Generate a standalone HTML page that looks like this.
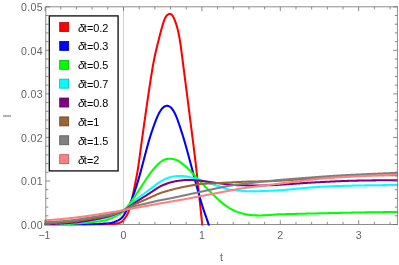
<!DOCTYPE html>
<html><head><meta charset="utf-8"><style>
html,body{margin:0;padding:0;background:#fff;}
body{width:399px;height:265px;overflow:hidden;position:relative;font-family:"Liberation Sans",sans-serif;}
svg text{font-family:"Liberation Sans",sans-serif;}
</style></head><body>
<svg width="399" height="265" viewBox="0 0 399 265" style="position:absolute;left:0;top:0;will-change:transform;opacity:0.999">
<defs><clipPath id="c"><rect x="44.199999999999996" y="6.3" width="353.7" height="219.2"/></clipPath></defs>
<path d="M45.8,6.8 H397.4 M45.8,224.5 H397.4" fill="none" stroke="#6e6e6e" stroke-width="0.8"/>
<line x1="123.5" y1="6.8" x2="123.5" y2="224.5" stroke="#c8c8c8" stroke-width="0.8"/>
<g clip-path="url(#c)" fill="none" stroke-width="2.05" stroke-linejoin="round" stroke-linecap="square">
<path d="M45.60,224.50 L46.25,224.50 L46.91,224.50 L47.56,224.50 L48.22,224.50 L48.87,224.51 L49.52,224.51 L50.18,224.51 L50.83,224.51 L51.49,224.51 L52.14,224.51 L52.79,224.51 L53.45,224.51 L54.10,224.51 L54.76,224.51 L55.41,224.51 L56.06,224.51 L56.72,224.51 L57.37,224.51 L58.03,224.51 L58.68,224.51 L59.33,224.51 L59.99,224.51 L60.64,224.51 L61.30,224.51 L61.95,224.51 L62.60,224.51 L63.26,224.51 L63.91,224.51 L64.56,224.51 L65.22,224.51 L65.87,224.51 L66.53,224.51 L67.18,224.51 L67.83,224.51 L68.49,224.51 L69.14,224.51 L69.80,224.51 L70.45,224.51 L71.10,224.51 L71.76,224.51 L72.41,224.51 L73.07,224.51 L73.72,224.51 L74.37,224.51 L75.03,224.51 L75.68,224.51 L76.34,224.51 L76.99,224.51 L77.64,224.51 L78.30,224.51 L78.95,224.51 L79.61,224.50 L80.26,224.50 L80.91,224.50 L81.57,224.50 L82.22,224.50 L82.88,224.50 L83.53,224.50 L84.18,224.50 L84.84,224.50 L85.49,224.50 L86.15,224.50 L86.80,224.50 L87.45,224.50 L88.11,224.50 L88.76,224.50 L89.42,224.50 L90.07,224.50 L90.72,224.50 L91.38,224.50 L92.03,224.50 L92.69,224.50 L93.34,224.50 L93.99,224.49 L94.65,224.49 L95.30,224.49 L95.95,224.49 L96.61,224.49 L97.26,224.48 L97.92,224.48 L98.57,224.48 L99.22,224.47 L99.88,224.47 L100.53,224.47 L101.19,224.46 L101.84,224.46 L102.49,224.46 L103.15,224.45 L103.80,224.45 L104.46,224.45 L105.11,224.43 L105.76,224.42 L106.42,224.39 L107.07,224.37 L107.73,224.34 L108.38,224.30 L109.03,224.26 L109.69,224.22 L110.34,224.18 L111.00,224.14 L111.65,224.09 L112.30,224.05 L112.96,224.00 L113.61,223.95 L114.27,223.87 L114.92,223.78 L115.57,223.67 L116.23,223.55 L116.88,223.43 L117.54,223.31 L118.19,223.18 L118.84,223.01 L119.50,222.80 L120.15,222.55 L120.81,222.25 L121.46,221.90 L122.11,221.49 L122.77,220.95 L123.42,220.23 L124.08,219.40 L124.73,218.50 L125.38,217.56 L126.04,216.54 L126.69,215.46 L127.34,214.31 L128.00,212.99 L128.65,211.35 L129.31,209.35 L129.96,207.13 L130.61,204.91 L131.27,202.48 L131.92,199.58 L132.58,196.49 L133.23,193.30 L133.88,190.08 L134.54,186.85 L135.19,183.60 L135.85,180.31 L136.50,176.96 L137.15,173.39 L137.81,169.50 L138.46,165.26 L139.12,160.66 L139.77,155.84 L140.42,150.93 L141.08,146.06 L141.73,141.34 L142.39,136.67 L143.04,132.00 L143.69,127.34 L144.35,122.68 L145.00,118.05 L145.66,113.44 L146.31,108.86 L146.96,104.32 L147.62,99.82 L148.27,95.37 L148.93,90.98 L149.58,86.64 L150.23,82.37 L150.89,78.18 L151.54,74.06 L152.20,70.03 L152.85,66.18 L153.50,62.58 L154.16,59.21 L154.81,56.05 L155.47,53.05 L156.12,50.20 L156.77,47.46 L157.43,44.81 L158.08,42.22 L158.73,39.66 L159.39,37.11 L160.04,34.53 L160.70,31.98 L161.35,29.51 L162.00,27.16 L162.66,24.93 L163.31,22.84 L163.97,20.91 L164.62,19.18 L165.27,17.76 L165.93,16.63 L166.58,15.75 L167.24,15.10 L167.89,14.63 L168.54,14.31 L169.20,14.10 L169.85,13.98 L170.51,14.04 L171.16,14.33 L171.81,14.86 L172.47,15.61 L173.12,16.61 L173.78,17.85 L174.43,19.32 L175.08,21.01 L175.74,22.84 L176.39,24.83 L177.05,27.04 L177.70,29.51 L178.35,32.29 L179.01,35.43 L179.66,38.99 L180.32,43.00 L180.97,47.51 L181.62,52.51 L182.28,57.59 L182.93,62.69 L183.59,67.79 L184.24,72.90 L184.89,78.01 L185.55,83.12 L186.20,88.23 L186.86,93.34 L187.51,98.45 L188.16,103.56 L188.82,108.67 L189.47,113.79 L190.12,118.91 L190.78,124.03 L191.43,129.15 L192.09,134.28 L192.74,139.41 L193.39,144.56 L194.05,149.82 L194.70,155.24 L195.36,160.79 L196.01,166.47 L196.66,172.26 L197.32,178.16 L197.97,184.15 L198.63,190.22 L199.28,196.37 L199.93,202.57 L200.59,208.82 L201.24,215.11 L201.90,221.43 L202.55,227.78 L203.20,234.29 L203.86,240.97 L204.51,247.82 L205.17,254.83 L205.82,262.00" stroke="#ff0000"/>
<path d="M45.60,224.50 L46.25,224.50 L46.91,224.50 L47.56,224.50 L48.22,224.50 L48.87,224.50 L49.52,224.50 L50.18,224.50 L50.83,224.50 L51.49,224.50 L52.14,224.50 L52.79,224.50 L53.45,224.50 L54.10,224.49 L54.75,224.49 L55.41,224.49 L56.06,224.49 L56.72,224.49 L57.37,224.49 L58.02,224.48 L58.68,224.48 L59.33,224.48 L59.99,224.48 L60.64,224.48 L61.29,224.47 L61.95,224.47 L62.60,224.47 L63.26,224.47 L63.91,224.47 L64.56,224.46 L65.22,224.46 L65.87,224.46 L66.53,224.46 L67.18,224.45 L67.83,224.45 L68.49,224.45 L69.14,224.45 L69.79,224.44 L70.45,224.44 L71.10,224.44 L71.76,224.43 L72.41,224.43 L73.06,224.43 L73.72,224.43 L74.37,224.42 L75.03,224.42 L75.68,224.42 L76.33,224.42 L76.99,224.41 L77.64,224.41 L78.30,224.41 L78.95,224.40 L79.60,224.40 L80.26,224.40 L80.91,224.40 L81.56,224.39 L82.22,224.39 L82.87,224.39 L83.53,224.38 L84.18,224.38 L84.83,224.37 L85.49,224.37 L86.14,224.36 L86.80,224.35 L87.45,224.35 L88.10,224.34 L88.76,224.32 L89.41,224.31 L90.07,224.30 L90.72,224.28 L91.37,224.26 L92.03,224.24 L92.68,224.22 L93.34,224.19 L93.99,224.16 L94.64,224.13 L95.30,224.10 L95.95,224.06 L96.60,224.03 L97.26,223.99 L97.91,223.95 L98.57,223.92 L99.22,223.88 L99.87,223.84 L100.53,223.80 L101.18,223.76 L101.84,223.72 L102.49,223.68 L103.14,223.65 L103.80,223.61 L104.45,223.58 L105.11,223.54 L105.76,223.50 L106.41,223.45 L107.07,223.41 L107.72,223.36 L108.38,223.31 L109.03,223.25 L109.68,223.16 L110.34,223.04 L110.99,222.90 L111.64,222.75 L112.30,222.58 L112.95,222.41 L113.61,222.23 L114.26,222.01 L114.91,221.76 L115.57,221.50 L116.22,221.21 L116.88,220.92 L117.53,220.63 L118.18,220.33 L118.84,219.99 L119.49,219.60 L120.15,219.17 L120.80,218.67 L121.45,218.12 L122.11,217.49 L122.76,216.74 L123.41,215.84 L124.07,214.83 L124.72,213.73 L125.38,212.58 L126.03,211.41 L126.68,210.21 L127.34,208.99 L127.99,207.73 L128.65,206.43 L129.30,205.08 L129.95,203.67 L130.61,202.21 L131.26,200.68 L131.92,199.08 L132.57,197.40 L133.22,195.66 L133.88,193.85 L134.53,191.98 L135.19,190.04 L135.84,188.05 L136.49,186.00 L137.15,183.89 L137.80,181.73 L138.45,179.53 L139.11,177.28 L139.76,174.97 L140.42,172.61 L141.07,170.20 L141.72,167.76 L142.38,165.29 L143.03,162.80 L143.69,160.30 L144.34,157.79 L144.99,155.29 L145.65,152.80 L146.30,150.33 L146.96,147.89 L147.61,145.49 L148.26,143.13 L148.92,140.84 L149.57,138.63 L150.22,136.49 L150.88,134.43 L151.53,132.43 L152.19,130.48 L152.84,128.59 L153.49,126.75 L154.15,124.94 L154.80,123.17 L155.46,121.43 L156.11,119.71 L156.76,118.07 L157.42,116.54 L158.07,115.11 L158.73,113.78 L159.38,112.56 L160.03,111.44 L160.69,110.43 L161.34,109.51 L162.00,108.70 L162.65,107.99 L163.30,107.38 L163.96,106.87 L164.61,106.46 L165.26,106.15 L165.92,105.94 L166.57,105.82 L167.23,105.81 L167.88,105.89 L168.53,106.07 L169.19,106.35 L169.84,106.74 L170.50,107.24 L171.15,107.84 L171.80,108.56 L172.46,109.38 L173.11,110.32 L173.77,111.38 L174.42,112.55 L175.07,113.85 L175.73,115.26 L176.38,116.80 L177.04,118.46 L177.69,120.25 L178.34,122.10 L179.00,123.98 L179.65,125.89 L180.30,127.84 L180.96,129.82 L181.61,131.83 L182.27,133.89 L182.92,135.99 L183.57,138.14 L184.23,140.34 L184.88,142.59 L185.54,144.88 L186.19,147.21 L186.84,149.56 L187.50,151.94 L188.15,154.34 L188.81,156.75 L189.46,159.18 L190.11,161.63 L190.77,164.08 L191.42,166.54 L192.07,169.01 L192.73,171.47 L193.38,173.94 L194.04,176.40 L194.69,178.85 L195.34,181.29 L196.00,183.72 L196.65,186.14 L197.31,188.53 L197.96,190.91 L198.61,193.26 L199.27,195.58 L199.92,197.87 L200.58,200.13 L201.23,202.36 L201.88,204.55 L202.54,206.66 L203.19,208.66 L203.85,210.59 L204.50,212.47 L205.15,214.31 L205.81,216.15 L206.46,218.00 L207.11,219.90 L207.77,221.87 L208.42,223.92 L209.08,226.07 L209.73,228.27 L210.38,230.51 L211.04,232.80 L211.69,235.15 L212.35,237.54 L213.00,240.00" stroke="#0000ff"/>
<path d="M45.60,224.40 L46.25,224.40 L46.91,224.40 L47.56,224.40 L48.21,224.40 L48.87,224.39 L49.52,224.39 L50.18,224.38 L50.83,224.38 L51.48,224.37 L52.14,224.36 L52.79,224.35 L53.44,224.34 L54.10,224.33 L54.75,224.32 L55.40,224.31 L56.06,224.29 L56.71,224.28 L57.37,224.27 L58.02,224.25 L58.67,224.23 L59.33,224.22 L59.98,224.20 L60.63,224.18 L61.29,224.16 L61.94,224.15 L62.59,224.13 L63.25,224.10 L63.90,224.08 L64.55,224.06 L65.21,224.04 L65.86,224.01 L66.52,223.99 L67.17,223.96 L67.82,223.94 L68.48,223.91 L69.13,223.88 L69.78,223.86 L70.44,223.83 L71.09,223.80 L71.74,223.77 L72.40,223.73 L73.05,223.70 L73.71,223.67 L74.36,223.63 L75.01,223.60 L75.67,223.56 L76.32,223.52 L76.97,223.49 L77.63,223.45 L78.28,223.41 L78.93,223.37 L79.59,223.33 L80.24,223.28 L80.90,223.24 L81.55,223.19 L82.20,223.14 L82.86,223.08 L83.51,223.03 L84.16,222.97 L84.82,222.91 L85.47,222.85 L86.12,222.78 L86.78,222.72 L87.43,222.66 L88.09,222.59 L88.74,222.53 L89.39,222.46 L90.05,222.40 L90.70,222.33 L91.35,222.26 L92.01,222.20 L92.66,222.13 L93.31,222.06 L93.97,221.98 L94.62,221.91 L95.27,221.83 L95.93,221.76 L96.58,221.68 L97.24,221.60 L97.89,221.51 L98.54,221.42 L99.20,221.34 L99.85,221.24 L100.50,221.15 L101.16,221.05 L101.81,220.95 L102.46,220.85 L103.12,220.75 L103.77,220.64 L104.43,220.52 L105.08,220.38 L105.73,220.21 L106.39,220.01 L107.04,219.81 L107.69,219.58 L108.35,219.35 L109.00,219.12 L109.65,218.88 L110.31,218.63 L110.96,218.37 L111.62,218.10 L112.27,217.82 L112.92,217.53 L113.58,217.23 L114.23,216.92 L114.88,216.60 L115.54,216.27 L116.19,215.93 L116.84,215.59 L117.50,215.25 L118.15,214.91 L118.81,214.56 L119.46,214.19 L120.11,213.81 L120.77,213.40 L121.42,212.97 L122.07,212.52 L122.73,212.00 L123.38,211.39 L124.03,210.71 L124.69,209.97 L125.34,209.19 L125.99,208.40 L126.65,207.60 L127.30,206.79 L127.96,205.96 L128.61,205.13 L129.26,204.27 L129.92,203.39 L130.57,202.48 L131.22,201.56 L131.88,200.63 L132.53,199.69 L133.18,198.75 L133.84,197.81 L134.49,196.86 L135.15,195.91 L135.80,194.96 L136.45,194.00 L137.11,193.03 L137.76,192.06 L138.41,191.08 L139.07,190.10 L139.72,189.11 L140.37,188.11 L141.03,187.10 L141.68,186.09 L142.34,185.07 L142.99,184.05 L143.64,183.03 L144.30,182.01 L144.95,181.00 L145.60,179.99 L146.26,178.98 L146.91,177.98 L147.56,177.01 L148.22,176.07 L148.87,175.16 L149.53,174.25 L150.18,173.36 L150.83,172.48 L151.49,171.62 L152.14,170.79 L152.79,169.99 L153.45,169.20 L154.10,168.44 L154.75,167.70 L155.41,166.99 L156.06,166.29 L156.72,165.61 L157.37,164.96 L158.02,164.32 L158.68,163.70 L159.33,163.10 L159.98,162.51 L160.64,161.96 L161.29,161.47 L161.94,161.02 L162.60,160.61 L163.25,160.26 L163.90,159.94 L164.56,159.67 L165.21,159.44 L165.87,159.25 L166.52,159.09 L167.17,158.97 L167.83,158.88 L168.48,158.83 L169.13,158.80 L169.79,158.79 L170.44,158.81 L171.09,158.85 L171.75,158.91 L172.40,158.98 L173.06,159.08 L173.71,159.20 L174.36,159.35 L175.02,159.52 L175.67,159.73 L176.32,159.96 L176.98,160.24 L177.63,160.54 L178.28,160.89 L178.94,161.28 L179.59,161.71 L180.25,162.18 L180.90,162.67 L181.55,163.16 L182.21,163.66 L182.86,164.17 L183.51,164.69 L184.17,165.22 L184.82,165.76 L185.47,166.32 L186.13,166.89 L186.78,167.47 L187.44,168.07 L188.09,168.69 L188.74,169.33 L189.40,169.98 L190.05,170.65 L190.70,171.34 L191.36,172.03 L192.01,172.72 L192.66,173.42 L193.32,174.12 L193.97,174.82 L194.62,175.53 L195.28,176.23 L195.93,176.94 L196.59,177.65 L197.24,178.35 L197.89,179.06 L198.55,179.76 L199.20,180.46 L199.85,181.15 L200.51,181.84 L201.16,182.53 L201.81,183.21 L202.47,183.89 L203.12,184.56 L203.78,185.23 L204.43,185.90 L205.08,186.57 L205.74,187.24 L206.39,187.90 L207.04,188.56 L207.70,189.22 L208.35,189.88 L209.00,190.54 L209.66,191.19 L210.31,191.84 L210.97,192.49 L211.62,193.13 L212.27,193.77 L212.93,194.41 L213.58,195.05 L214.23,195.69 L214.89,196.32 L215.54,196.95 L216.19,197.58 L216.85,198.20 L217.50,198.83 L218.16,199.44 L218.81,200.04 L219.46,200.64 L220.12,201.21 L220.77,201.78 L221.42,202.33 L222.08,202.87 L222.73,203.40 L223.38,203.92 L224.04,204.42 L224.69,204.91 L225.34,205.39 L226.00,205.85 L226.65,206.31 L227.31,206.75 L227.96,207.18 L228.61,207.59 L229.27,208.00 L229.92,208.39 L230.57,208.77 L231.23,209.14 L231.88,209.49 L232.53,209.83 L233.19,210.16 L233.84,210.48 L234.50,210.79 L235.15,211.08 L235.80,211.36 L236.46,211.63 L237.11,211.89 L237.76,212.13 L238.42,212.37 L239.07,212.59 L239.72,212.80 L240.38,213.00 L241.03,213.19 L241.69,213.37 L242.34,213.54 L242.99,213.70 L243.65,213.84 L244.30,213.99 L244.95,214.13 L245.61,214.26 L246.26,214.39 L246.91,214.51 L247.57,214.62 L248.22,214.71 L248.88,214.79 L249.53,214.86 L250.18,214.93 L250.84,214.99 L251.49,215.06 L252.14,215.11 L252.80,215.17 L253.45,215.22 L254.10,215.26 L254.76,215.30 L255.41,215.34 L256.06,215.36 L256.72,215.38 L257.37,215.40 L258.03,215.40 L258.68,215.41 L259.33,215.41 L259.99,215.41 L260.64,215.41 L261.29,215.40 L261.95,215.39 L262.60,215.37 L263.25,215.36 L263.91,215.33 L264.56,215.30 L265.22,215.27 L265.87,215.23 L266.52,215.19 L267.18,215.15 L267.83,215.11 L268.48,215.06 L269.14,215.01 L269.79,214.97 L270.44,214.92 L271.10,214.87 L271.75,214.82 L272.41,214.77 L273.06,214.72 L273.71,214.67 L274.37,214.62 L275.02,214.57 L275.67,214.53 L276.33,214.49 L276.98,214.45 L277.63,214.41 L278.29,214.38 L278.94,214.35 L279.60,214.32 L280.25,214.30 L280.90,214.28 L281.56,214.26 L282.21,214.25 L282.86,214.23 L283.52,214.21 L284.17,214.19 L284.82,214.17 L285.48,214.15 L286.13,214.14 L286.78,214.12 L287.44,214.10 L288.09,214.08 L288.75,214.07 L289.40,214.05 L290.05,214.03 L290.71,214.01 L291.36,214.00 L292.01,213.98 L292.67,213.96 L293.32,213.94 L293.97,213.93 L294.63,213.91 L295.28,213.89 L295.94,213.88 L296.59,213.86 L297.24,213.84 L297.90,213.83 L298.55,213.81 L299.20,213.79 L299.86,213.78 L300.51,213.76 L301.16,213.74 L301.82,213.73 L302.47,213.71 L303.13,213.70 L303.78,213.68 L304.43,213.67 L305.09,213.65 L305.74,213.63 L306.39,213.62 L307.05,213.60 L307.70,213.59 L308.35,213.57 L309.01,213.56 L309.66,213.54 L310.32,213.53 L310.97,213.52 L311.62,213.50 L312.28,213.49 L312.93,213.47 L313.58,213.46 L314.24,213.44 L314.89,213.43 L315.54,213.41 L316.20,213.40 L316.85,213.39 L317.51,213.37 L318.16,213.36 L318.81,213.34 L319.47,213.33 L320.12,213.31 L320.77,213.30 L321.43,213.28 L322.08,213.27 L322.73,213.25 L323.39,213.24 L324.04,213.22 L324.69,213.21 L325.35,213.20 L326.00,213.18 L326.66,213.17 L327.31,213.15 L327.96,213.14 L328.62,213.12 L329.27,213.11 L329.92,213.09 L330.58,213.08 L331.23,213.07 L331.88,213.05 L332.54,213.04 L333.19,213.02 L333.85,213.01 L334.50,212.99 L335.15,212.98 L335.81,212.97 L336.46,212.95 L337.11,212.94 L337.77,212.92 L338.42,212.91 L339.07,212.89 L339.73,212.88 L340.38,212.87 L341.04,212.85 L341.69,212.84 L342.34,212.83 L343.00,212.81 L343.65,212.80 L344.30,212.78 L344.96,212.77 L345.61,212.76 L346.26,212.74 L346.92,212.73 L347.57,212.72 L348.23,212.70 L348.88,212.69 L349.53,212.68 L350.19,212.66 L350.84,212.65 L351.49,212.64 L352.15,212.62 L352.80,212.61 L353.45,212.60 L354.11,212.59 L354.76,212.57 L355.41,212.56 L356.07,212.55 L356.72,212.54 L357.38,212.52 L358.03,212.51 L358.68,212.50 L359.34,212.49 L359.99,212.48 L360.64,212.46 L361.30,212.45 L361.95,212.44 L362.60,212.43 L363.26,212.42 L363.91,212.41 L364.57,212.40 L365.22,212.39 L365.87,212.38 L366.53,212.37 L367.18,212.36 L367.83,212.35 L368.49,212.34 L369.14,212.33 L369.79,212.32 L370.45,212.31 L371.10,212.30 L371.76,212.29 L372.41,212.28 L373.06,212.27 L373.72,212.26 L374.37,212.25 L375.02,212.24 L375.68,212.23 L376.33,212.23 L376.98,212.22 L377.64,212.21 L378.29,212.20 L378.95,212.19 L379.60,212.19 L380.25,212.18 L380.91,212.17 L381.56,212.16 L382.21,212.15 L382.87,212.15 L383.52,212.14 L384.17,212.13 L384.83,212.13 L385.48,212.12 L386.13,212.11 L386.79,212.10 L387.44,212.10 L388.10,212.09 L388.75,212.08 L389.40,212.08 L390.06,212.07 L390.71,212.07 L391.36,212.06 L392.02,212.05 L392.67,212.05 L393.32,212.04 L393.98,212.03 L394.63,212.03 L395.29,212.02 L395.94,212.02 L396.59,212.01 L397.25,212.01 L397.90,212.00" stroke="#00ff00"/>
<path d="M45.60,224.30 L46.25,224.29 L46.91,224.27 L47.56,224.26 L48.21,224.24 L48.87,224.23 L49.52,224.21 L50.18,224.19 L50.83,224.17 L51.48,224.15 L52.14,224.12 L52.79,224.10 L53.44,224.08 L54.10,224.05 L54.75,224.03 L55.40,224.00 L56.06,223.97 L56.71,223.95 L57.37,223.92 L58.02,223.89 L58.67,223.86 L59.33,223.83 L59.98,223.80 L60.63,223.77 L61.29,223.74 L61.94,223.71 L62.59,223.68 L63.25,223.65 L63.90,223.62 L64.55,223.58 L65.21,223.55 L65.86,223.52 L66.52,223.48 L67.17,223.44 L67.82,223.41 L68.48,223.37 L69.13,223.33 L69.78,223.29 L70.44,223.24 L71.09,223.20 L71.74,223.15 L72.40,223.11 L73.05,223.06 L73.71,223.00 L74.36,222.95 L75.01,222.90 L75.67,222.84 L76.32,222.78 L76.97,222.72 L77.63,222.65 L78.28,222.59 L78.93,222.52 L79.59,222.45 L80.24,222.37 L80.90,222.29 L81.55,222.21 L82.20,222.12 L82.86,222.03 L83.51,221.94 L84.16,221.84 L84.82,221.74 L85.47,221.63 L86.12,221.53 L86.78,221.43 L87.43,221.32 L88.09,221.21 L88.74,221.11 L89.39,221.00 L90.05,220.89 L90.70,220.79 L91.35,220.68 L92.01,220.57 L92.66,220.46 L93.31,220.35 L93.97,220.24 L94.62,220.13 L95.27,220.02 L95.93,219.91 L96.58,219.79 L97.24,219.67 L97.89,219.56 L98.54,219.44 L99.20,219.32 L99.85,219.20 L100.50,219.08 L101.16,218.95 L101.81,218.83 L102.46,218.70 L103.12,218.57 L103.77,218.45 L104.43,218.31 L105.08,218.17 L105.73,218.01 L106.39,217.84 L107.04,217.66 L107.69,217.47 L108.35,217.28 L109.00,217.07 L109.65,216.86 L110.31,216.64 L110.96,216.42 L111.62,216.19 L112.27,215.96 L112.92,215.73 L113.58,215.49 L114.23,215.24 L114.88,214.97 L115.54,214.69 L116.19,214.41 L116.84,214.11 L117.50,213.81 L118.15,213.50 L118.81,213.19 L119.46,212.87 L120.11,212.54 L120.77,212.21 L121.42,211.85 L122.07,211.48 L122.73,211.09 L123.38,210.68 L124.03,210.25 L124.69,209.80 L125.34,209.32 L125.99,208.81 L126.65,208.26 L127.30,207.68 L127.96,207.07 L128.61,206.43 L129.26,205.78 L129.92,205.12 L130.57,204.46 L131.22,203.80 L131.88,203.16 L132.53,202.53 L133.18,201.92 L133.84,201.34 L134.49,200.79 L135.15,200.29 L135.80,199.80 L136.45,199.32 L137.11,198.83 L137.76,198.34 L138.41,197.86 L139.07,197.37 L139.72,196.89 L140.37,196.40 L141.03,195.92 L141.68,195.43 L142.34,194.95 L142.99,194.47 L143.64,193.98 L144.30,193.49 L144.95,193.01 L145.60,192.52 L146.26,192.03 L146.91,191.54 L147.56,191.05 L148.22,190.56 L148.87,190.07 L149.53,189.58 L150.18,189.08 L150.83,188.59 L151.49,188.10 L152.14,187.60 L152.79,187.11 L153.45,186.62 L154.10,186.13 L154.75,185.63 L155.41,185.14 L156.06,184.65 L156.72,184.16 L157.37,183.67 L158.02,183.19 L158.68,182.73 L159.33,182.28 L159.98,181.86 L160.64,181.46 L161.29,181.07 L161.94,180.70 L162.60,180.34 L163.25,180.00 L163.90,179.68 L164.56,179.36 L165.21,179.06 L165.87,178.76 L166.52,178.48 L167.17,178.20 L167.83,177.95 L168.48,177.72 L169.13,177.50 L169.79,177.31 L170.44,177.13 L171.09,176.97 L171.75,176.83 L172.40,176.70 L173.06,176.59 L173.71,176.49 L174.36,176.40 L175.02,176.31 L175.67,176.24 L176.32,176.17 L176.98,176.11 L177.63,176.07 L178.28,176.03 L178.94,176.01 L179.59,176.00 L180.25,176.00 L180.90,176.01 L181.55,176.03 L182.21,176.06 L182.86,176.09 L183.51,176.14 L184.17,176.21 L184.82,176.28 L185.47,176.38 L186.13,176.49 L186.78,176.61 L187.44,176.73 L188.09,176.86 L188.74,176.99 L189.40,177.12 L190.05,177.25 L190.70,177.39 L191.36,177.52 L192.01,177.67 L192.66,177.81 L193.32,177.96 L193.97,178.12 L194.62,178.28 L195.28,178.44 L195.93,178.61 L196.59,178.78 L197.24,178.96 L197.89,179.14 L198.55,179.33 L199.20,179.52 L199.85,179.73 L200.51,179.93 L201.16,180.15 L201.81,180.37 L202.47,180.60 L203.12,180.82 L203.78,181.05 L204.43,181.28 L205.08,181.50 L205.74,181.73 L206.39,181.96 L207.04,182.18 L207.70,182.41 L208.35,182.64 L209.00,182.87 L209.66,183.09 L210.31,183.32 L210.97,183.55 L211.62,183.77 L212.27,184.00 L212.93,184.23 L213.58,184.45 L214.23,184.68 L214.89,184.91 L215.54,185.13 L216.19,185.36 L216.85,185.59 L217.50,185.81 L218.16,186.04 L218.81,186.27 L219.46,186.49 L220.12,186.72 L220.77,186.94 L221.42,187.17 L222.08,187.39 L222.73,187.62 L223.38,187.84 L224.04,188.07 L224.69,188.29 L225.34,188.52 L226.00,188.72 L226.65,188.91 L227.31,189.08 L227.96,189.24 L228.61,189.39 L229.27,189.52 L229.92,189.64 L230.57,189.75 L231.23,189.85 L231.88,189.94 L232.53,190.02 L233.19,190.10 L233.84,190.18 L234.50,190.25 L235.15,190.31 L235.80,190.38 L236.46,190.45 L237.11,190.51 L237.76,190.57 L238.42,190.63 L239.07,190.69 L239.72,190.74 L240.38,190.80 L241.03,190.85 L241.69,190.90 L242.34,190.94 L242.99,190.99 L243.65,191.03 L244.30,191.06 L244.95,191.09 L245.61,191.12 L246.26,191.15 L246.91,191.17 L247.57,191.18 L248.22,191.19 L248.88,191.20 L249.53,191.20 L250.18,191.21 L250.84,191.21 L251.49,191.21 L252.14,191.21 L252.80,191.21 L253.45,191.21 L254.10,191.20 L254.76,191.20 L255.41,191.20 L256.06,191.19 L256.72,191.19 L257.37,191.18 L258.03,191.17 L258.68,191.16 L259.33,191.15 L259.99,191.13 L260.64,191.12 L261.29,191.10 L261.95,191.09 L262.60,191.07 L263.25,191.05 L263.91,191.03 L264.56,191.00 L265.22,190.98 L265.87,190.95 L266.52,190.93 L267.18,190.90 L267.83,190.87 L268.48,190.85 L269.14,190.82 L269.79,190.79 L270.44,190.76 L271.10,190.73 L271.75,190.70 L272.41,190.67 L273.06,190.63 L273.71,190.60 L274.37,190.56 L275.02,190.53 L275.67,190.49 L276.33,190.45 L276.98,190.42 L277.63,190.38 L278.29,190.33 L278.94,190.29 L279.60,190.25 L280.25,190.20 L280.90,190.16 L281.56,190.11 L282.21,190.06 L282.86,190.01 L283.52,189.96 L284.17,189.90 L284.82,189.85 L285.48,189.79 L286.13,189.73 L286.78,189.67 L287.44,189.62 L288.09,189.56 L288.75,189.49 L289.40,189.43 L290.05,189.37 L290.71,189.31 L291.36,189.24 L292.01,189.18 L292.67,189.11 L293.32,189.05 L293.97,188.99 L294.63,188.92 L295.28,188.85 L295.94,188.79 L296.59,188.72 L297.24,188.66 L297.90,188.59 L298.55,188.53 L299.20,188.47 L299.86,188.40 L300.51,188.34 L301.16,188.28 L301.82,188.21 L302.47,188.15 L303.13,188.09 L303.78,188.03 L304.43,187.97 L305.09,187.91 L305.74,187.86 L306.39,187.80 L307.05,187.75 L307.70,187.69 L308.35,187.64 L309.01,187.59 L309.66,187.54 L310.32,187.49 L310.97,187.45 L311.62,187.40 L312.28,187.36 L312.93,187.32 L313.58,187.27 L314.24,187.23 L314.89,187.19 L315.54,187.15 L316.20,187.11 L316.85,187.07 L317.51,187.03 L318.16,186.99 L318.81,186.95 L319.47,186.91 L320.12,186.87 L320.77,186.83 L321.43,186.80 L322.08,186.76 L322.73,186.72 L323.39,186.69 L324.04,186.65 L324.69,186.62 L325.35,186.58 L326.00,186.55 L326.66,186.52 L327.31,186.48 L327.96,186.45 L328.62,186.42 L329.27,186.39 L329.92,186.36 L330.58,186.33 L331.23,186.30 L331.88,186.27 L332.54,186.24 L333.19,186.22 L333.85,186.19 L334.50,186.16 L335.15,186.14 L335.81,186.11 L336.46,186.09 L337.11,186.07 L337.77,186.04 L338.42,186.02 L339.07,186.00 L339.73,185.98 L340.38,185.96 L341.04,185.94 L341.69,185.92 L342.34,185.90 L343.00,185.88 L343.65,185.86 L344.30,185.84 L344.96,185.82 L345.61,185.80 L346.26,185.78 L346.92,185.77 L347.57,185.75 L348.23,185.73 L348.88,185.71 L349.53,185.70 L350.19,185.68 L350.84,185.66 L351.49,185.65 L352.15,185.63 L352.80,185.62 L353.45,185.60 L354.11,185.59 L354.76,185.58 L355.41,185.56 L356.07,185.55 L356.72,185.54 L357.38,185.52 L358.03,185.51 L358.68,185.50 L359.34,185.49 L359.99,185.48 L360.64,185.47 L361.30,185.46 L361.95,185.45 L362.60,185.43 L363.26,185.42 L363.91,185.41 L364.57,185.40 L365.22,185.39 L365.87,185.38 L366.53,185.37 L367.18,185.36 L367.83,185.35 L368.49,185.34 L369.14,185.33 L369.79,185.32 L370.45,185.31 L371.10,185.30 L371.76,185.29 L372.41,185.28 L373.06,185.27 L373.72,185.26 L374.37,185.25 L375.02,185.24 L375.68,185.23 L376.33,185.22 L376.98,185.22 L377.64,185.21 L378.29,185.20 L378.95,185.19 L379.60,185.18 L380.25,185.17 L380.91,185.16 L381.56,185.16 L382.21,185.15 L382.87,185.14 L383.52,185.13 L384.17,185.12 L384.83,185.12 L385.48,185.11 L386.13,185.10 L386.79,185.10 L387.44,185.09 L388.10,185.08 L388.75,185.08 L389.40,185.07 L390.06,185.06 L390.71,185.06 L391.36,185.05 L392.02,185.04 L392.67,185.04 L393.32,185.03 L393.98,185.03 L394.63,185.02 L395.29,185.02 L395.94,185.01 L396.59,185.01 L397.25,185.00 L397.90,185.00" stroke="#00ffff"/>
<path d="M45.60,224.10 L46.25,224.09 L46.91,224.08 L47.56,224.07 L48.21,224.06 L48.87,224.05 L49.52,224.03 L50.18,224.01 L50.83,224.00 L51.48,223.98 L52.14,223.95 L52.79,223.93 L53.44,223.91 L54.10,223.88 L54.75,223.86 L55.40,223.83 L56.06,223.80 L56.71,223.77 L57.37,223.74 L58.02,223.70 L58.67,223.67 L59.33,223.64 L59.98,223.60 L60.63,223.56 L61.29,223.53 L61.94,223.49 L62.59,223.45 L63.25,223.41 L63.90,223.37 L64.55,223.33 L65.21,223.28 L65.86,223.24 L66.52,223.20 L67.17,223.15 L67.82,223.10 L68.48,223.05 L69.13,223.00 L69.78,222.95 L70.44,222.89 L71.09,222.84 L71.74,222.78 L72.40,222.72 L73.05,222.66 L73.71,222.60 L74.36,222.54 L75.01,222.47 L75.67,222.40 L76.32,222.33 L76.97,222.26 L77.63,222.19 L78.28,222.11 L78.93,222.03 L79.59,221.95 L80.24,221.87 L80.90,221.78 L81.55,221.69 L82.20,221.60 L82.86,221.50 L83.51,221.40 L84.16,221.30 L84.82,221.20 L85.47,221.09 L86.12,220.98 L86.78,220.87 L87.43,220.76 L88.09,220.64 L88.74,220.53 L89.39,220.41 L90.05,220.29 L90.70,220.17 L91.35,220.05 L92.01,219.93 L92.66,219.81 L93.31,219.69 L93.97,219.57 L94.62,219.44 L95.27,219.31 L95.93,219.19 L96.58,219.06 L97.24,218.93 L97.89,218.80 L98.54,218.66 L99.20,218.53 L99.85,218.39 L100.50,218.26 L101.16,218.12 L101.81,217.98 L102.46,217.84 L103.12,217.69 L103.77,217.55 L104.43,217.40 L105.08,217.25 L105.73,217.09 L106.39,216.92 L107.04,216.75 L107.69,216.57 L108.35,216.39 L109.00,216.20 L109.65,216.01 L110.31,215.82 L110.96,215.62 L111.62,215.43 L112.27,215.23 L112.92,215.02 L113.58,214.82 L114.23,214.60 L114.88,214.38 L115.54,214.15 L116.19,213.91 L116.84,213.66 L117.50,213.40 L118.15,213.13 L118.81,212.86 L119.46,212.57 L120.11,212.28 L120.77,211.97 L121.42,211.65 L122.07,211.32 L122.73,210.97 L123.38,210.60 L124.03,210.22 L124.69,209.82 L125.34,209.40 L125.99,208.97 L126.65,208.52 L127.30,208.07 L127.96,207.60 L128.61,207.13 L129.26,206.66 L129.92,206.18 L130.57,205.70 L131.22,205.22 L131.88,204.75 L132.53,204.28 L133.18,203.82 L133.84,203.37 L134.49,202.93 L135.15,202.51 L135.80,202.09 L136.45,201.67 L137.11,201.25 L137.76,200.83 L138.41,200.42 L139.07,200.00 L139.72,199.59 L140.37,199.17 L141.03,198.76 L141.68,198.34 L142.34,197.93 L142.99,197.51 L143.64,197.10 L144.30,196.68 L144.95,196.26 L145.60,195.85 L146.26,195.43 L146.91,195.01 L147.56,194.58 L148.22,194.16 L148.87,193.73 L149.53,193.30 L150.18,192.87 L150.83,192.44 L151.49,192.01 L152.14,191.57 L152.79,191.14 L153.45,190.71 L154.10,190.28 L154.75,189.85 L155.41,189.42 L156.06,188.99 L156.72,188.57 L157.37,188.15 L158.02,187.73 L158.68,187.33 L159.33,186.95 L159.98,186.59 L160.64,186.24 L161.29,185.90 L161.94,185.58 L162.60,185.28 L163.25,184.99 L163.90,184.70 L164.56,184.44 L165.21,184.18 L165.87,183.93 L166.52,183.69 L167.17,183.46 L167.83,183.24 L168.48,183.03 L169.13,182.83 L169.79,182.63 L170.44,182.44 L171.09,182.26 L171.75,182.09 L172.40,181.93 L173.06,181.77 L173.71,181.63 L174.36,181.49 L175.02,181.36 L175.67,181.23 L176.32,181.12 L176.98,181.01 L177.63,180.91 L178.28,180.81 L178.94,180.73 L179.59,180.65 L180.25,180.57 L180.90,180.50 L181.55,180.43 L182.21,180.37 L182.86,180.30 L183.51,180.24 L184.17,180.18 L184.82,180.13 L185.47,180.08 L186.13,180.04 L186.78,180.01 L187.44,179.98 L188.09,179.96 L188.74,179.95 L189.40,179.95 L190.05,179.95 L190.70,179.97 L191.36,180.00 L192.01,180.04 L192.66,180.08 L193.32,180.12 L193.97,180.16 L194.62,180.21 L195.28,180.25 L195.93,180.30 L196.59,180.36 L197.24,180.41 L197.89,180.47 L198.55,180.54 L199.20,180.60 L199.85,180.67 L200.51,180.74 L201.16,180.82 L201.81,180.90 L202.47,180.98 L203.12,181.07 L203.78,181.16 L204.43,181.25 L205.08,181.34 L205.74,181.43 L206.39,181.52 L207.04,181.61 L207.70,181.71 L208.35,181.80 L209.00,181.90 L209.66,181.99 L210.31,182.09 L210.97,182.18 L211.62,182.27 L212.27,182.37 L212.93,182.46 L213.58,182.55 L214.23,182.65 L214.89,182.74 L215.54,182.83 L216.19,182.92 L216.85,183.00 L217.50,183.09 L218.16,183.18 L218.81,183.26 L219.46,183.35 L220.12,183.43 L220.77,183.52 L221.42,183.60 L222.08,183.69 L222.73,183.77 L223.38,183.85 L224.04,183.93 L224.69,184.01 L225.34,184.09 L226.00,184.17 L226.65,184.25 L227.31,184.32 L227.96,184.40 L228.61,184.47 L229.27,184.53 L229.92,184.60 L230.57,184.67 L231.23,184.73 L231.88,184.79 L232.53,184.84 L233.19,184.89 L233.84,184.94 L234.50,184.99 L235.15,185.03 L235.80,185.07 L236.46,185.11 L237.11,185.14 L237.76,185.17 L238.42,185.20 L239.07,185.22 L239.72,185.24 L240.38,185.26 L241.03,185.28 L241.69,185.30 L242.34,185.31 L242.99,185.32 L243.65,185.33 L244.30,185.34 L244.95,185.35 L245.61,185.36 L246.26,185.37 L246.91,185.38 L247.57,185.38 L248.22,185.39 L248.88,185.40 L249.53,185.41 L250.18,185.41 L250.84,185.42 L251.49,185.43 L252.14,185.44 L252.80,185.44 L253.45,185.45 L254.10,185.46 L254.76,185.46 L255.41,185.47 L256.06,185.47 L256.72,185.47 L257.37,185.48 L258.03,185.48 L258.68,185.48 L259.33,185.47 L259.99,185.47 L260.64,185.47 L261.29,185.46 L261.95,185.45 L262.60,185.44 L263.25,185.43 L263.91,185.42 L264.56,185.40 L265.22,185.38 L265.87,185.37 L266.52,185.35 L267.18,185.32 L267.83,185.30 L268.48,185.28 L269.14,185.26 L269.79,185.23 L270.44,185.20 L271.10,185.18 L271.75,185.15 L272.41,185.12 L273.06,185.09 L273.71,185.06 L274.37,185.03 L275.02,185.00 L275.67,184.96 L276.33,184.93 L276.98,184.89 L277.63,184.86 L278.29,184.82 L278.94,184.78 L279.60,184.74 L280.25,184.70 L280.90,184.66 L281.56,184.62 L282.21,184.58 L282.86,184.54 L283.52,184.50 L284.17,184.45 L284.82,184.41 L285.48,184.37 L286.13,184.32 L286.78,184.28 L287.44,184.24 L288.09,184.19 L288.75,184.15 L289.40,184.10 L290.05,184.06 L290.71,184.01 L291.36,183.97 L292.01,183.92 L292.67,183.87 L293.32,183.83 L293.97,183.78 L294.63,183.74 L295.28,183.69 L295.94,183.64 L296.59,183.60 L297.24,183.55 L297.90,183.51 L298.55,183.46 L299.20,183.41 L299.86,183.37 L300.51,183.32 L301.16,183.28 L301.82,183.23 L302.47,183.19 L303.13,183.14 L303.78,183.10 L304.43,183.06 L305.09,183.01 L305.74,182.97 L306.39,182.93 L307.05,182.88 L307.70,182.84 L308.35,182.80 L309.01,182.76 L309.66,182.72 L310.32,182.68 L310.97,182.64 L311.62,182.60 L312.28,182.56 L312.93,182.53 L313.58,182.49 L314.24,182.45 L314.89,182.41 L315.54,182.38 L316.20,182.34 L316.85,182.30 L317.51,182.27 L318.16,182.23 L318.81,182.19 L319.47,182.16 L320.12,182.12 L320.77,182.09 L321.43,182.05 L322.08,182.02 L322.73,181.98 L323.39,181.95 L324.04,181.91 L324.69,181.88 L325.35,181.85 L326.00,181.81 L326.66,181.78 L327.31,181.75 L327.96,181.71 L328.62,181.68 L329.27,181.65 L329.92,181.62 L330.58,181.59 L331.23,181.56 L331.88,181.52 L332.54,181.49 L333.19,181.46 L333.85,181.43 L334.50,181.40 L335.15,181.37 L335.81,181.34 L336.46,181.31 L337.11,181.29 L337.77,181.26 L338.42,181.23 L339.07,181.20 L339.73,181.17 L340.38,181.15 L341.04,181.12 L341.69,181.09 L342.34,181.07 L343.00,181.04 L343.65,181.02 L344.30,181.00 L344.96,180.97 L345.61,180.95 L346.26,180.93 L346.92,180.91 L347.57,180.89 L348.23,180.86 L348.88,180.84 L349.53,180.83 L350.19,180.81 L350.84,180.79 L351.49,180.77 L352.15,180.75 L352.80,180.73 L353.45,180.72 L354.11,180.70 L354.76,180.69 L355.41,180.67 L356.07,180.66 L356.72,180.64 L357.38,180.63 L358.03,180.61 L358.68,180.60 L359.34,180.59 L359.99,180.57 L360.64,180.56 L361.30,180.55 L361.95,180.54 L362.60,180.53 L363.26,180.52 L363.91,180.51 L364.57,180.49 L365.22,180.48 L365.87,180.47 L366.53,180.46 L367.18,180.46 L367.83,180.45 L368.49,180.44 L369.14,180.43 L369.79,180.42 L370.45,180.41 L371.10,180.40 L371.76,180.40 L372.41,180.39 L373.06,180.38 L373.72,180.37 L374.37,180.37 L375.02,180.36 L375.68,180.36 L376.33,180.35 L376.98,180.34 L377.64,180.34 L378.29,180.33 L378.95,180.33 L379.60,180.32 L380.25,180.32 L380.91,180.32 L381.56,180.31 L382.21,180.31 L382.87,180.31 L383.52,180.30 L384.17,180.30 L384.83,180.30 L385.48,180.30 L386.13,180.29 L386.79,180.29 L387.44,180.29 L388.10,180.29 L388.75,180.29 L389.40,180.29 L390.06,180.29 L390.71,180.29 L391.36,180.29 L392.02,180.29 L392.67,180.29 L393.32,180.29 L393.98,180.29 L394.63,180.29 L395.29,180.29 L395.94,180.29 L396.59,180.30 L397.25,180.30 L397.90,180.30" stroke="#800080"/>
<path d="M45.60,223.40 L46.25,223.37 L46.91,223.34 L47.56,223.32 L48.21,223.29 L48.87,223.26 L49.52,223.23 L50.18,223.20 L50.83,223.18 L51.48,223.15 L52.14,223.12 L52.79,223.09 L53.44,223.05 L54.10,223.02 L54.75,222.99 L55.40,222.96 L56.06,222.92 L56.71,222.89 L57.37,222.85 L58.02,222.81 L58.67,222.78 L59.33,222.74 L59.98,222.70 L60.63,222.65 L61.29,222.61 L61.94,222.57 L62.59,222.52 L63.25,222.47 L63.90,222.43 L64.55,222.38 L65.21,222.32 L65.86,222.27 L66.52,222.22 L67.17,222.16 L67.82,222.10 L68.48,222.04 L69.13,221.98 L69.78,221.91 L70.44,221.85 L71.09,221.78 L71.74,221.71 L72.40,221.63 L73.05,221.56 L73.71,221.48 L74.36,221.40 L75.01,221.32 L75.67,221.23 L76.32,221.14 L76.97,221.05 L77.63,220.96 L78.28,220.87 L78.93,220.77 L79.59,220.67 L80.24,220.56 L80.90,220.46 L81.55,220.35 L82.20,220.25 L82.86,220.14 L83.51,220.04 L84.16,219.93 L84.82,219.83 L85.47,219.72 L86.12,219.62 L86.78,219.52 L87.43,219.41 L88.09,219.31 L88.74,219.20 L89.39,219.10 L90.05,218.99 L90.70,218.89 L91.35,218.78 L92.01,218.68 L92.66,218.57 L93.31,218.47 L93.97,218.37 L94.62,218.26 L95.27,218.16 L95.93,218.05 L96.58,217.95 L97.24,217.84 L97.89,217.74 L98.54,217.63 L99.20,217.53 L99.85,217.42 L100.50,217.32 L101.16,217.20 L101.81,217.09 L102.46,216.96 L103.12,216.84 L103.77,216.70 L104.43,216.57 L105.08,216.43 L105.73,216.29 L106.39,216.15 L107.04,216.01 L107.69,215.87 L108.35,215.72 L109.00,215.57 L109.65,215.42 L110.31,215.26 L110.96,215.09 L111.62,214.91 L112.27,214.73 L112.92,214.54 L113.58,214.34 L114.23,214.14 L114.88,213.93 L115.54,213.71 L116.19,213.49 L116.84,213.26 L117.50,213.02 L118.15,212.77 L118.81,212.50 L119.46,212.23 L120.11,211.96 L120.77,211.67 L121.42,211.37 L122.07,211.07 L122.73,210.76 L123.38,210.45 L124.03,210.13 L124.69,209.81 L125.34,209.48 L125.99,209.15 L126.65,208.80 L127.30,208.44 L127.96,208.07 L128.61,207.69 L129.26,207.31 L129.92,206.93 L130.57,206.55 L131.22,206.17 L131.88,205.80 L132.53,205.44 L133.18,205.09 L133.84,204.75 L134.49,204.44 L135.15,204.13 L135.80,203.84 L136.45,203.55 L137.11,203.27 L137.76,202.98 L138.41,202.70 L139.07,202.42 L139.72,202.14 L140.37,201.86 L141.03,201.58 L141.68,201.30 L142.34,201.02 L142.99,200.74 L143.64,200.46 L144.30,200.18 L144.95,199.89 L145.60,199.61 L146.26,199.32 L146.91,199.03 L147.56,198.74 L148.22,198.44 L148.87,198.14 L149.53,197.84 L150.18,197.54 L150.83,197.24 L151.49,196.94 L152.14,196.64 L152.79,196.34 L153.45,196.04 L154.10,195.75 L154.75,195.45 L155.41,195.16 L156.06,194.87 L156.72,194.58 L157.37,194.30 L158.02,194.02 L158.68,193.75 L159.33,193.50 L159.98,193.25 L160.64,193.01 L161.29,192.78 L161.94,192.56 L162.60,192.34 L163.25,192.14 L163.90,191.93 L164.56,191.73 L165.21,191.54 L165.87,191.35 L166.52,191.16 L167.17,190.98 L167.83,190.80 L168.48,190.62 L169.13,190.44 L169.79,190.26 L170.44,190.08 L171.09,189.90 L171.75,189.72 L172.40,189.55 L173.06,189.38 L173.71,189.21 L174.36,189.04 L175.02,188.87 L175.67,188.71 L176.32,188.55 L176.98,188.39 L177.63,188.24 L178.28,188.08 L178.94,187.93 L179.59,187.79 L180.25,187.65 L180.90,187.51 L181.55,187.37 L182.21,187.23 L182.86,187.10 L183.51,186.97 L184.17,186.84 L184.82,186.71 L185.47,186.58 L186.13,186.46 L186.78,186.33 L187.44,186.21 L188.09,186.08 L188.74,185.96 L189.40,185.84 L190.05,185.72 L190.70,185.61 L191.36,185.49 L192.01,185.37 L192.66,185.25 L193.32,185.13 L193.97,185.01 L194.62,184.88 L195.28,184.76 L195.93,184.65 L196.59,184.53 L197.24,184.42 L197.89,184.32 L198.55,184.22 L199.20,184.12 L199.85,184.04 L200.51,183.97 L201.16,183.90 L201.81,183.85 L202.47,183.81 L203.12,183.77 L203.78,183.74 L204.43,183.71 L205.08,183.68 L205.74,183.64 L206.39,183.61 L207.04,183.58 L207.70,183.55 L208.35,183.51 L209.00,183.48 L209.66,183.45 L210.31,183.42 L210.97,183.39 L211.62,183.35 L212.27,183.32 L212.93,183.29 L213.58,183.26 L214.23,183.23 L214.89,183.19 L215.54,183.16 L216.19,183.13 L216.85,183.10 L217.50,183.07 L218.16,183.03 L218.81,183.00 L219.46,182.97 L220.12,182.94 L220.77,182.91 L221.42,182.87 L222.08,182.84 L222.73,182.81 L223.38,182.78 L224.04,182.75 L224.69,182.72 L225.34,182.68 L226.00,182.65 L226.65,182.62 L227.31,182.59 L227.96,182.56 L228.61,182.52 L229.27,182.49 L229.92,182.46 L230.57,182.43 L231.23,182.40 L231.88,182.36 L232.53,182.33 L233.19,182.30 L233.84,182.27 L234.50,182.24 L235.15,182.20 L235.80,182.17 L236.46,182.14 L237.11,182.11 L237.76,182.08 L238.42,182.04 L239.07,182.01 L239.72,181.98 L240.38,181.95 L241.03,181.92 L241.69,181.89 L242.34,181.85 L242.99,181.82 L243.65,181.79 L244.30,181.76 L244.95,181.73 L245.61,181.70 L246.26,181.66 L246.91,181.63 L247.57,181.60 L248.22,181.57 L248.88,181.55 L249.53,181.52 L250.18,181.50 L250.84,181.48 L251.49,181.47 L252.14,181.46 L252.80,181.44 L253.45,181.43 L254.10,181.43 L254.76,181.42 L255.41,181.41 L256.06,181.41 L256.72,181.40 L257.37,181.40 L258.03,181.40 L258.68,181.39 L259.33,181.39 L259.99,181.38 L260.64,181.37 L261.29,181.37 L261.95,181.36 L262.60,181.35 L263.25,181.33 L263.91,181.32 L264.56,181.30 L265.22,181.28 L265.87,181.26 L266.52,181.25 L267.18,181.23 L267.83,181.21 L268.48,181.19 L269.14,181.17 L269.79,181.15 L270.44,181.13 L271.10,181.11 L271.75,181.09 L272.41,181.07 L273.06,181.04 L273.71,181.02 L274.37,180.99 L275.02,180.97 L275.67,180.94 L276.33,180.91 L276.98,180.88 L277.63,180.85 L278.29,180.81 L278.94,180.78 L279.60,180.74 L280.25,180.70 L280.90,180.66 L281.56,180.62 L282.21,180.58 L282.86,180.54 L283.52,180.50 L284.17,180.46 L284.82,180.42 L285.48,180.37 L286.13,180.33 L286.78,180.29 L287.44,180.24 L288.09,180.20 L288.75,180.16 L289.40,180.11 L290.05,180.07 L290.71,180.03 L291.36,179.98 L292.01,179.94 L292.67,179.89 L293.32,179.85 L293.97,179.80 L294.63,179.76 L295.28,179.71 L295.94,179.67 L296.59,179.62 L297.24,179.58 L297.90,179.53 L298.55,179.49 L299.20,179.44 L299.86,179.40 L300.51,179.35 L301.16,179.31 L301.82,179.26 L302.47,179.22 L303.13,179.17 L303.78,179.13 L304.43,179.08 L305.09,179.04 L305.74,178.99 L306.39,178.95 L307.05,178.91 L307.70,178.86 L308.35,178.82 L309.01,178.77 L309.66,178.73 L310.32,178.69 L310.97,178.65 L311.62,178.60 L312.28,178.56 L312.93,178.52 L313.58,178.47 L314.24,178.43 L314.89,178.39 L315.54,178.35 L316.20,178.31 L316.85,178.26 L317.51,178.22 L318.16,178.18 L318.81,178.14 L319.47,178.09 L320.12,178.05 L320.77,178.01 L321.43,177.97 L322.08,177.93 L322.73,177.89 L323.39,177.84 L324.04,177.80 L324.69,177.76 L325.35,177.72 L326.00,177.68 L326.66,177.64 L327.31,177.59 L327.96,177.55 L328.62,177.51 L329.27,177.47 L329.92,177.43 L330.58,177.39 L331.23,177.35 L331.88,177.31 L332.54,177.27 L333.19,177.22 L333.85,177.18 L334.50,177.14 L335.15,177.10 L335.81,177.06 L336.46,177.02 L337.11,176.98 L337.77,176.94 L338.42,176.90 L339.07,176.86 L339.73,176.82 L340.38,176.78 L341.04,176.74 L341.69,176.70 L342.34,176.66 L343.00,176.62 L343.65,176.58 L344.30,176.54 L344.96,176.50 L345.61,176.46 L346.26,176.43 L346.92,176.39 L347.57,176.35 L348.23,176.31 L348.88,176.27 L349.53,176.23 L350.19,176.19 L350.84,176.15 L351.49,176.12 L352.15,176.08 L352.80,176.04 L353.45,176.00 L354.11,175.96 L354.76,175.93 L355.41,175.89 L356.07,175.85 L356.72,175.81 L357.38,175.78 L358.03,175.74 L358.68,175.70 L359.34,175.66 L359.99,175.63 L360.64,175.60 L361.30,175.56 L361.95,175.53 L362.60,175.51 L363.26,175.48 L363.91,175.45 L364.57,175.43 L365.22,175.40 L365.87,175.38 L366.53,175.36 L367.18,175.34 L367.83,175.32 L368.49,175.30 L369.14,175.29 L369.79,175.27 L370.45,175.26 L371.10,175.25 L371.76,175.24 L372.41,175.23 L373.06,175.22 L373.72,175.21 L374.37,175.20 L375.02,175.19 L375.68,175.19 L376.33,175.18 L376.98,175.18 L377.64,175.18 L378.29,175.18 L378.95,175.18 L379.60,175.18 L380.25,175.18 L380.91,175.18 L381.56,175.18 L382.21,175.18 L382.87,175.19 L383.52,175.19 L384.17,175.20 L384.83,175.20 L385.48,175.21 L386.13,175.21 L386.79,175.22 L387.44,175.23 L388.10,175.24 L388.75,175.24 L389.40,175.25 L390.06,175.26 L390.71,175.27 L391.36,175.28 L392.02,175.29 L392.67,175.30 L393.32,175.32 L393.98,175.33 L394.63,175.34 L395.29,175.35 L395.94,175.36 L396.59,175.37 L397.25,175.39 L397.90,175.40" stroke="#996633"/>
<path d="M45.60,222.10 L46.25,222.07 L46.91,222.04 L47.56,222.02 L48.21,221.99 L48.87,221.96 L49.52,221.93 L50.18,221.90 L50.83,221.87 L51.48,221.84 L52.14,221.80 L52.79,221.77 L53.44,221.74 L54.10,221.70 L54.75,221.66 L55.40,221.63 L56.06,221.59 L56.71,221.55 L57.37,221.51 L58.02,221.47 L58.67,221.43 L59.33,221.38 L59.98,221.34 L60.63,221.29 L61.29,221.25 L61.94,221.20 L62.59,221.15 L63.25,221.10 L63.90,221.05 L64.55,220.99 L65.21,220.94 L65.86,220.88 L66.52,220.82 L67.17,220.76 L67.82,220.70 L68.48,220.64 L69.13,220.57 L69.78,220.50 L70.44,220.43 L71.09,220.36 L71.74,220.29 L72.40,220.22 L73.05,220.14 L73.71,220.06 L74.36,219.98 L75.01,219.90 L75.67,219.82 L76.32,219.73 L76.97,219.64 L77.63,219.55 L78.28,219.46 L78.93,219.36 L79.59,219.26 L80.24,219.16 L80.90,219.06 L81.55,218.95 L82.20,218.84 L82.86,218.73 L83.51,218.61 L84.16,218.50 L84.82,218.38 L85.47,218.27 L86.12,218.15 L86.78,218.04 L87.43,217.92 L88.09,217.81 L88.74,217.70 L89.39,217.60 L90.05,217.49 L90.70,217.39 L91.35,217.29 L92.01,217.19 L92.66,217.10 L93.31,217.00 L93.97,216.90 L94.62,216.81 L95.27,216.71 L95.93,216.61 L96.58,216.52 L97.24,216.42 L97.89,216.32 L98.54,216.22 L99.20,216.12 L99.85,216.02 L100.50,215.92 L101.16,215.82 L101.81,215.71 L102.46,215.60 L103.12,215.49 L103.77,215.37 L104.43,215.26 L105.08,215.14 L105.73,215.02 L106.39,214.90 L107.04,214.78 L107.69,214.66 L108.35,214.53 L109.00,214.41 L109.65,214.28 L110.31,214.15 L110.96,214.01 L111.62,213.87 L112.27,213.72 L112.92,213.56 L113.58,213.40 L114.23,213.23 L114.88,213.05 L115.54,212.86 L116.19,212.66 L116.84,212.45 L117.50,212.23 L118.15,212.01 L118.81,211.79 L119.46,211.57 L120.11,211.34 L120.77,211.12 L121.42,210.90 L122.07,210.67 L122.73,210.45 L123.38,210.22 L124.03,210.00 L124.69,209.78 L125.34,209.55 L125.99,209.33 L126.65,209.11 L127.30,208.88 L127.96,208.66 L128.61,208.43 L129.26,208.20 L129.92,207.98 L130.57,207.75 L131.22,207.53 L131.88,207.31 L132.53,207.09 L133.18,206.88 L133.84,206.66 L134.49,206.46 L135.15,206.26 L135.80,206.06 L136.45,205.87 L137.11,205.69 L137.76,205.52 L138.41,205.35 L139.07,205.19 L139.72,205.03 L140.37,204.87 L141.03,204.72 L141.68,204.57 L142.34,204.42 L142.99,204.27 L143.64,204.12 L144.30,203.97 L144.95,203.82 L145.60,203.67 L146.26,203.51 L146.91,203.35 L147.56,203.19 L148.22,203.03 L148.87,202.87 L149.53,202.71 L150.18,202.55 L150.83,202.39 L151.49,202.23 L152.14,202.07 L152.79,201.92 L153.45,201.76 L154.10,201.60 L154.75,201.45 L155.41,201.30 L156.06,201.15 L156.72,201.00 L157.37,200.85 L158.02,200.71 L158.68,200.57 L159.33,200.43 L159.98,200.30 L160.64,200.17 L161.29,200.05 L161.94,199.92 L162.60,199.80 L163.25,199.68 L163.90,199.56 L164.56,199.44 L165.21,199.31 L165.87,199.19 L166.52,199.07 L167.17,198.94 L167.83,198.82 L168.48,198.69 L169.13,198.55 L169.79,198.42 L170.44,198.28 L171.09,198.15 L171.75,198.02 L172.40,197.88 L173.06,197.75 L173.71,197.62 L174.36,197.48 L175.02,197.35 L175.67,197.21 L176.32,197.08 L176.98,196.94 L177.63,196.80 L178.28,196.67 L178.94,196.53 L179.59,196.39 L180.25,196.25 L180.90,196.11 L181.55,195.97 L182.21,195.82 L182.86,195.68 L183.51,195.54 L184.17,195.40 L184.82,195.26 L185.47,195.12 L186.13,194.98 L186.78,194.83 L187.44,194.69 L188.09,194.55 L188.74,194.41 L189.40,194.27 L190.05,194.13 L190.70,193.98 L191.36,193.84 L192.01,193.70 L192.66,193.56 L193.32,193.42 L193.97,193.27 L194.62,193.13 L195.28,192.99 L195.93,192.85 L196.59,192.70 L197.24,192.56 L197.89,192.42 L198.55,192.28 L199.20,192.14 L199.85,192.00 L200.51,191.85 L201.16,191.71 L201.81,191.57 L202.47,191.43 L203.12,191.29 L203.78,191.15 L204.43,191.00 L205.08,190.86 L205.74,190.72 L206.39,190.58 L207.04,190.44 L207.70,190.30 L208.35,190.15 L209.00,190.01 L209.66,189.87 L210.31,189.73 L210.97,189.59 L211.62,189.45 L212.27,189.31 L212.93,189.17 L213.58,189.03 L214.23,188.88 L214.89,188.74 L215.54,188.60 L216.19,188.46 L216.85,188.32 L217.50,188.18 L218.16,188.04 L218.81,187.91 L219.46,187.77 L220.12,187.63 L220.77,187.49 L221.42,187.35 L222.08,187.21 L222.73,187.08 L223.38,186.94 L224.04,186.80 L224.69,186.66 L225.34,186.53 L226.00,186.40 L226.65,186.27 L227.31,186.14 L227.96,186.02 L228.61,185.91 L229.27,185.79 L229.92,185.68 L230.57,185.57 L231.23,185.47 L231.88,185.37 L232.53,185.27 L233.19,185.17 L233.84,185.08 L234.50,184.98 L235.15,184.89 L235.80,184.81 L236.46,184.72 L237.11,184.64 L237.76,184.55 L238.42,184.47 L239.07,184.39 L239.72,184.31 L240.38,184.23 L241.03,184.16 L241.69,184.08 L242.34,184.00 L242.99,183.93 L243.65,183.85 L244.30,183.78 L244.95,183.70 L245.61,183.63 L246.26,183.56 L246.91,183.48 L247.57,183.40 L248.22,183.33 L248.88,183.25 L249.53,183.18 L250.18,183.10 L250.84,183.02 L251.49,182.95 L252.14,182.87 L252.80,182.80 L253.45,182.72 L254.10,182.65 L254.76,182.57 L255.41,182.50 L256.06,182.42 L256.72,182.35 L257.37,182.27 L258.03,182.20 L258.68,182.12 L259.33,182.05 L259.99,181.98 L260.64,181.90 L261.29,181.83 L261.95,181.76 L262.60,181.69 L263.25,181.62 L263.91,181.54 L264.56,181.47 L265.22,181.40 L265.87,181.33 L266.52,181.26 L267.18,181.19 L267.83,181.12 L268.48,181.06 L269.14,180.99 L269.79,180.92 L270.44,180.85 L271.10,180.79 L271.75,180.72 L272.41,180.65 L273.06,180.59 L273.71,180.52 L274.37,180.46 L275.02,180.39 L275.67,180.33 L276.33,180.27 L276.98,180.20 L277.63,180.14 L278.29,180.08 L278.94,180.02 L279.60,179.96 L280.25,179.90 L280.90,179.85 L281.56,179.79 L282.21,179.73 L282.86,179.68 L283.52,179.62 L284.17,179.57 L284.82,179.51 L285.48,179.46 L286.13,179.40 L286.78,179.35 L287.44,179.29 L288.09,179.24 L288.75,179.19 L289.40,179.13 L290.05,179.08 L290.71,179.02 L291.36,178.97 L292.01,178.92 L292.67,178.87 L293.32,178.81 L293.97,178.76 L294.63,178.71 L295.28,178.66 L295.94,178.60 L296.59,178.55 L297.24,178.50 L297.90,178.45 L298.55,178.40 L299.20,178.35 L299.86,178.30 L300.51,178.25 L301.16,178.20 L301.82,178.15 L302.47,178.10 L303.13,178.04 L303.78,177.99 L304.43,177.94 L305.09,177.90 L305.74,177.85 L306.39,177.80 L307.05,177.75 L307.70,177.70 L308.35,177.65 L309.01,177.60 L309.66,177.55 L310.32,177.50 L310.97,177.45 L311.62,177.40 L312.28,177.35 L312.93,177.31 L313.58,177.26 L314.24,177.21 L314.89,177.16 L315.54,177.11 L316.20,177.06 L316.85,177.01 L317.51,176.97 L318.16,176.92 L318.81,176.87 L319.47,176.82 L320.12,176.77 L320.77,176.73 L321.43,176.68 L322.08,176.63 L322.73,176.58 L323.39,176.54 L324.04,176.49 L324.69,176.44 L325.35,176.40 L326.00,176.35 L326.66,176.31 L327.31,176.26 L327.96,176.22 L328.62,176.17 L329.27,176.13 L329.92,176.08 L330.58,176.04 L331.23,175.99 L331.88,175.95 L332.54,175.91 L333.19,175.87 L333.85,175.82 L334.50,175.78 L335.15,175.74 L335.81,175.70 L336.46,175.66 L337.11,175.62 L337.77,175.58 L338.42,175.54 L339.07,175.50 L339.73,175.46 L340.38,175.43 L341.04,175.39 L341.69,175.35 L342.34,175.31 L343.00,175.28 L343.65,175.24 L344.30,175.21 L344.96,175.17 L345.61,175.14 L346.26,175.10 L346.92,175.07 L347.57,175.04 L348.23,175.00 L348.88,174.97 L349.53,174.94 L350.19,174.90 L350.84,174.87 L351.49,174.84 L352.15,174.81 L352.80,174.78 L353.45,174.74 L354.11,174.71 L354.76,174.68 L355.41,174.65 L356.07,174.62 L356.72,174.59 L357.38,174.56 L358.03,174.53 L358.68,174.50 L359.34,174.47 L359.99,174.44 L360.64,174.41 L361.30,174.38 L361.95,174.35 L362.60,174.32 L363.26,174.29 L363.91,174.26 L364.57,174.23 L365.22,174.20 L365.87,174.17 L366.53,174.14 L367.18,174.11 L367.83,174.09 L368.49,174.06 L369.14,174.03 L369.79,174.00 L370.45,173.97 L371.10,173.94 L371.76,173.91 L372.41,173.88 L373.06,173.85 L373.72,173.82 L374.37,173.79 L375.02,173.76 L375.68,173.74 L376.33,173.71 L376.98,173.68 L377.64,173.65 L378.29,173.62 L378.95,173.59 L379.60,173.56 L380.25,173.54 L380.91,173.51 L381.56,173.48 L382.21,173.45 L382.87,173.42 L383.52,173.39 L384.17,173.37 L384.83,173.34 L385.48,173.31 L386.13,173.28 L386.79,173.25 L387.44,173.23 L388.10,173.20 L388.75,173.17 L389.40,173.15 L390.06,173.12 L390.71,173.09 L391.36,173.06 L392.02,173.04 L392.67,173.01 L393.32,172.98 L393.98,172.96 L394.63,172.93 L395.29,172.90 L395.94,172.88 L396.59,172.85 L397.25,172.83 L397.90,172.80" stroke="#808080"/>
<path d="M45.60,220.30 L46.25,220.25 L46.91,220.20 L47.56,220.15 L48.21,220.10 L48.87,220.06 L49.52,220.01 L50.18,219.96 L50.83,219.91 L51.48,219.85 L52.14,219.80 L52.79,219.75 L53.44,219.70 L54.10,219.65 L54.75,219.59 L55.40,219.54 L56.06,219.49 L56.71,219.43 L57.37,219.38 L58.02,219.32 L58.67,219.27 L59.33,219.21 L59.98,219.15 L60.63,219.10 L61.29,219.04 L61.94,218.98 L62.59,218.92 L63.25,218.86 L63.90,218.80 L64.55,218.73 L65.21,218.67 L65.86,218.61 L66.52,218.54 L67.17,218.48 L67.82,218.41 L68.48,218.35 L69.13,218.28 L69.78,218.21 L70.44,218.14 L71.09,218.07 L71.74,218.00 L72.40,217.92 L73.05,217.85 L73.71,217.78 L74.36,217.70 L75.01,217.62 L75.67,217.55 L76.32,217.47 L76.97,217.39 L77.63,217.30 L78.28,217.22 L78.93,217.14 L79.59,217.05 L80.24,216.97 L80.90,216.88 L81.55,216.79 L82.20,216.71 L82.86,216.62 L83.51,216.53 L84.16,216.44 L84.82,216.35 L85.47,216.25 L86.12,216.16 L86.78,216.07 L87.43,215.97 L88.09,215.88 L88.74,215.79 L89.39,215.69 L90.05,215.59 L90.70,215.50 L91.35,215.40 L92.01,215.30 L92.66,215.21 L93.31,215.11 L93.97,215.02 L94.62,214.92 L95.27,214.82 L95.93,214.72 L96.58,214.63 L97.24,214.53 L97.89,214.43 L98.54,214.33 L99.20,214.23 L99.85,214.12 L100.50,214.02 L101.16,213.92 L101.81,213.81 L102.46,213.70 L103.12,213.60 L103.77,213.49 L104.43,213.38 L105.08,213.28 L105.73,213.17 L106.39,213.06 L107.04,212.96 L107.69,212.85 L108.35,212.74 L109.00,212.64 L109.65,212.54 L110.31,212.45 L110.96,212.35 L111.62,212.26 L112.27,212.16 L112.92,212.06 L113.58,211.96 L114.23,211.86 L114.88,211.76 L115.54,211.66 L116.19,211.54 L116.84,211.43 L117.50,211.31 L118.15,211.19 L118.81,211.07 L119.46,210.94 L120.11,210.82 L120.77,210.70 L121.42,210.57 L122.07,210.45 L122.73,210.33 L123.38,210.20 L124.03,210.08 L124.69,209.95 L125.34,209.83 L125.99,209.71 L126.65,209.58 L127.30,209.46 L127.96,209.33 L128.61,209.21 L129.26,209.09 L129.92,208.96 L130.57,208.84 L131.22,208.71 L131.88,208.59 L132.53,208.47 L133.18,208.34 L133.84,208.22 L134.49,208.10 L135.15,207.97 L135.80,207.85 L136.45,207.73 L137.11,207.61 L137.76,207.50 L138.41,207.38 L139.07,207.27 L139.72,207.15 L140.37,207.04 L141.03,206.93 L141.68,206.81 L142.34,206.70 L142.99,206.59 L143.64,206.47 L144.30,206.36 L144.95,206.24 L145.60,206.13 L146.26,206.01 L146.91,205.89 L147.56,205.77 L148.22,205.65 L148.87,205.53 L149.53,205.40 L150.18,205.28 L150.83,205.16 L151.49,205.03 L152.14,204.91 L152.79,204.79 L153.45,204.67 L154.10,204.54 L154.75,204.42 L155.41,204.30 L156.06,204.18 L156.72,204.06 L157.37,203.94 L158.02,203.82 L158.68,203.71 L159.33,203.59 L159.98,203.47 L160.64,203.35 L161.29,203.24 L161.94,203.12 L162.60,203.01 L163.25,202.89 L163.90,202.77 L164.56,202.66 L165.21,202.54 L165.87,202.43 L166.52,202.31 L167.17,202.20 L167.83,202.09 L168.48,201.97 L169.13,201.86 L169.79,201.75 L170.44,201.63 L171.09,201.52 L171.75,201.41 L172.40,201.30 L173.06,201.19 L173.71,201.07 L174.36,200.96 L175.02,200.85 L175.67,200.74 L176.32,200.63 L176.98,200.52 L177.63,200.41 L178.28,200.29 L178.94,200.18 L179.59,200.07 L180.25,199.96 L180.90,199.85 L181.55,199.73 L182.21,199.62 L182.86,199.51 L183.51,199.39 L184.17,199.28 L184.82,199.17 L185.47,199.05 L186.13,198.94 L186.78,198.82 L187.44,198.71 L188.09,198.59 L188.74,198.47 L189.40,198.35 L190.05,198.23 L190.70,198.11 L191.36,197.99 L192.01,197.87 L192.66,197.74 L193.32,197.61 L193.97,197.49 L194.62,197.36 L195.28,197.23 L195.93,197.11 L196.59,196.98 L197.24,196.85 L197.89,196.72 L198.55,196.59 L199.20,196.46 L199.85,196.34 L200.51,196.21 L201.16,196.08 L201.81,195.95 L202.47,195.83 L203.12,195.70 L203.78,195.57 L204.43,195.45 L205.08,195.32 L205.74,195.19 L206.39,195.07 L207.04,194.94 L207.70,194.82 L208.35,194.69 L209.00,194.56 L209.66,194.44 L210.31,194.31 L210.97,194.19 L211.62,194.06 L212.27,193.94 L212.93,193.81 L213.58,193.69 L214.23,193.56 L214.89,193.43 L215.54,193.31 L216.19,193.18 L216.85,193.06 L217.50,192.93 L218.16,192.81 L218.81,192.68 L219.46,192.56 L220.12,192.43 L220.77,192.31 L221.42,192.18 L222.08,192.06 L222.73,191.93 L223.38,191.81 L224.04,191.68 L224.69,191.56 L225.34,191.43 L226.00,191.31 L226.65,191.18 L227.31,191.06 L227.96,190.93 L228.61,190.81 L229.27,190.68 L229.92,190.56 L230.57,190.44 L231.23,190.31 L231.88,190.19 L232.53,190.07 L233.19,189.95 L233.84,189.82 L234.50,189.70 L235.15,189.59 L235.80,189.47 L236.46,189.35 L237.11,189.23 L237.76,189.12 L238.42,189.01 L239.07,188.89 L239.72,188.78 L240.38,188.68 L241.03,188.57 L241.69,188.46 L242.34,188.36 L242.99,188.26 L243.65,188.16 L244.30,188.06 L244.95,187.96 L245.61,187.87 L246.26,187.78 L246.91,187.69 L247.57,187.60 L248.22,187.52 L248.88,187.43 L249.53,187.35 L250.18,187.27 L250.84,187.18 L251.49,187.10 L252.14,187.02 L252.80,186.93 L253.45,186.85 L254.10,186.77 L254.76,186.69 L255.41,186.60 L256.06,186.52 L256.72,186.44 L257.37,186.36 L258.03,186.28 L258.68,186.19 L259.33,186.11 L259.99,186.03 L260.64,185.95 L261.29,185.87 L261.95,185.79 L262.60,185.71 L263.25,185.63 L263.91,185.55 L264.56,185.47 L265.22,185.39 L265.87,185.31 L266.52,185.23 L267.18,185.15 L267.83,185.07 L268.48,184.99 L269.14,184.91 L269.79,184.83 L270.44,184.75 L271.10,184.67 L271.75,184.58 L272.41,184.50 L273.06,184.42 L273.71,184.34 L274.37,184.26 L275.02,184.18 L275.67,184.10 L276.33,184.02 L276.98,183.94 L277.63,183.86 L278.29,183.78 L278.94,183.70 L279.60,183.62 L280.25,183.54 L280.90,183.46 L281.56,183.38 L282.21,183.30 L282.86,183.22 L283.52,183.14 L284.17,183.06 L284.82,182.98 L285.48,182.90 L286.13,182.82 L286.78,182.74 L287.44,182.66 L288.09,182.58 L288.75,182.50 L289.40,182.42 L290.05,182.34 L290.71,182.26 L291.36,182.18 L292.01,182.10 L292.67,182.02 L293.32,181.94 L293.97,181.86 L294.63,181.78 L295.28,181.70 L295.94,181.62 L296.59,181.54 L297.24,181.46 L297.90,181.38 L298.55,181.30 L299.20,181.22 L299.86,181.14 L300.51,181.06 L301.16,180.98 L301.82,180.90 L302.47,180.82 L303.13,180.74 L303.78,180.66 L304.43,180.58 L305.09,180.50 L305.74,180.42 L306.39,180.34 L307.05,180.26 L307.70,180.18 L308.35,180.10 L309.01,180.02 L309.66,179.94 L310.32,179.87 L310.97,179.79 L311.62,179.71 L312.28,179.63 L312.93,179.55 L313.58,179.47 L314.24,179.39 L314.89,179.31 L315.54,179.24 L316.20,179.16 L316.85,179.08 L317.51,179.01 L318.16,178.94 L318.81,178.87 L319.47,178.81 L320.12,178.74 L320.77,178.68 L321.43,178.61 L322.08,178.55 L322.73,178.49 L323.39,178.43 L324.04,178.38 L324.69,178.32 L325.35,178.27 L326.00,178.21 L326.66,178.16 L327.31,178.11 L327.96,178.06 L328.62,178.01 L329.27,177.96 L329.92,177.91 L330.58,177.87 L331.23,177.82 L331.88,177.77 L332.54,177.73 L333.19,177.68 L333.85,177.64 L334.50,177.60 L335.15,177.55 L335.81,177.51 L336.46,177.47 L337.11,177.43 L337.77,177.39 L338.42,177.34 L339.07,177.30 L339.73,177.26 L340.38,177.22 L341.04,177.18 L341.69,177.14 L342.34,177.10 L343.00,177.06 L343.65,177.02 L344.30,176.98 L344.96,176.94 L345.61,176.90 L346.26,176.86 L346.92,176.82 L347.57,176.78 L348.23,176.75 L348.88,176.71 L349.53,176.67 L350.19,176.64 L350.84,176.60 L351.49,176.56 L352.15,176.53 L352.80,176.49 L353.45,176.46 L354.11,176.43 L354.76,176.39 L355.41,176.36 L356.07,176.33 L356.72,176.29 L357.38,176.26 L358.03,176.23 L358.68,176.20 L359.34,176.17 L359.99,176.14 L360.64,176.11 L361.30,176.08 L361.95,176.05 L362.60,176.02 L363.26,175.99 L363.91,175.96 L364.57,175.93 L365.22,175.90 L365.87,175.87 L366.53,175.84 L367.18,175.81 L367.83,175.78 L368.49,175.76 L369.14,175.73 L369.79,175.70 L370.45,175.67 L371.10,175.64 L371.76,175.61 L372.41,175.58 L373.06,175.56 L373.72,175.53 L374.37,175.50 L375.02,175.47 L375.68,175.44 L376.33,175.42 L376.98,175.39 L377.64,175.36 L378.29,175.34 L378.95,175.31 L379.60,175.28 L380.25,175.26 L380.91,175.23 L381.56,175.20 L382.21,175.18 L382.87,175.15 L383.52,175.12 L384.17,175.10 L384.83,175.07 L385.48,175.05 L386.13,175.02 L386.79,175.00 L387.44,174.97 L388.10,174.95 L388.75,174.92 L389.40,174.90 L390.06,174.87 L390.71,174.85 L391.36,174.83 L392.02,174.80 L392.67,174.78 L393.32,174.76 L393.98,174.73 L394.63,174.71 L395.29,174.69 L395.94,174.67 L396.59,174.64 L397.25,174.62 L397.90,174.60" stroke="#ff8080"/>
</g>
<path d="M45.8,6.3999999999999995 V224.9 M397.4,6.3999999999999995 V224.9" fill="none" stroke="#6e6e6e" stroke-width="0.8"/>
<path d="M45.10,224.5 v-4.3 M45.10,6.8 v4.3 M60.78,224.5 v-2.6 M60.78,6.8 v2.6 M76.46,224.5 v-2.6 M76.46,6.8 v2.6 M92.14,224.5 v-2.6 M92.14,6.8 v2.6 M107.82,224.5 v-2.6 M107.82,6.8 v2.6 M123.50,224.5 v-4.3 M123.50,6.8 v4.3 M139.18,224.5 v-2.6 M139.18,6.8 v2.6 M154.86,224.5 v-2.6 M154.86,6.8 v2.6 M170.54,224.5 v-2.6 M170.54,6.8 v2.6 M186.22,224.5 v-2.6 M186.22,6.8 v2.6 M201.90,224.5 v-4.3 M201.90,6.8 v4.3 M217.58,224.5 v-2.6 M217.58,6.8 v2.6 M233.26,224.5 v-2.6 M233.26,6.8 v2.6 M248.94,224.5 v-2.6 M248.94,6.8 v2.6 M264.62,224.5 v-2.6 M264.62,6.8 v2.6 M280.30,224.5 v-4.3 M280.30,6.8 v4.3 M295.98,224.5 v-2.6 M295.98,6.8 v2.6 M311.66,224.5 v-2.6 M311.66,6.8 v2.6 M327.34,224.5 v-2.6 M327.34,6.8 v2.6 M343.02,224.5 v-2.6 M343.02,6.8 v2.6 M358.70,224.5 v-4.3 M358.70,6.8 v4.3 M374.38,224.5 v-2.6 M374.38,6.8 v2.6 M390.06,224.5 v-2.6 M390.06,6.8 v2.6 M45.8,224.50 h4.3 M397.4,224.50 h-4.3 M45.8,215.79 h2.6 M397.4,215.79 h-2.6 M45.8,207.08 h2.6 M397.4,207.08 h-2.6 M45.8,198.38 h2.6 M397.4,198.38 h-2.6 M45.8,189.67 h2.6 M397.4,189.67 h-2.6 M45.8,180.96 h4.3 M397.4,180.96 h-4.3 M45.8,172.25 h2.6 M397.4,172.25 h-2.6 M45.8,163.54 h2.6 M397.4,163.54 h-2.6 M45.8,154.84 h2.6 M397.4,154.84 h-2.6 M45.8,146.13 h2.6 M397.4,146.13 h-2.6 M45.8,137.42 h4.3 M397.4,137.42 h-4.3 M45.8,128.71 h2.6 M397.4,128.71 h-2.6 M45.8,120.00 h2.6 M397.4,120.00 h-2.6 M45.8,111.30 h2.6 M397.4,111.30 h-2.6 M45.8,102.59 h2.6 M397.4,102.59 h-2.6 M45.8,93.88 h4.3 M397.4,93.88 h-4.3 M45.8,85.17 h2.6 M397.4,85.17 h-2.6 M45.8,76.46 h2.6 M397.4,76.46 h-2.6 M45.8,67.76 h2.6 M397.4,67.76 h-2.6 M45.8,59.05 h2.6 M397.4,59.05 h-2.6 M45.8,50.34 h4.3 M397.4,50.34 h-4.3 M45.8,41.63 h2.6 M397.4,41.63 h-2.6 M45.8,32.92 h2.6 M397.4,32.92 h-2.6 M45.8,24.22 h2.6 M397.4,24.22 h-2.6 M45.8,15.51 h2.6 M397.4,15.51 h-2.6 M45.8,6.80 h4.3 M397.4,6.80 h-4.3" stroke="#6e6e6e" stroke-width="0.8" fill="none"/>
<text x="44.47" y="239.2" font-size="10.6" fill="#666666" text-anchor="middle">−1</text>
<text x="123.50" y="239.2" font-size="10.6" fill="#666666" text-anchor="middle">0</text>
<text x="201.90" y="239.2" font-size="10.6" fill="#666666" text-anchor="middle">1</text>
<text x="280.30" y="239.2" font-size="10.6" fill="#666666" text-anchor="middle">2</text>
<text x="358.70" y="239.2" font-size="10.6" fill="#666666" text-anchor="middle">3</text>
<text x="43.1" y="228.80" font-size="10.6" fill="#666666" text-anchor="end" letter-spacing="0.38">0.00</text>
<text x="43.1" y="185.26" font-size="10.6" fill="#666666" text-anchor="end" letter-spacing="0.38">0.01</text>
<text x="43.1" y="141.72" font-size="10.6" fill="#666666" text-anchor="end" letter-spacing="0.38">0.02</text>
<text x="43.1" y="98.18" font-size="10.6" fill="#666666" text-anchor="end" letter-spacing="0.38">0.03</text>
<text x="43.1" y="54.64" font-size="10.6" fill="#666666" text-anchor="end" letter-spacing="0.38">0.04</text>
<text x="43.1" y="11.10" font-size="10.6" fill="#666666" text-anchor="end" letter-spacing="0.38">0.05</text>
<text x="221.4" y="260.8" font-size="10.6" fill="#666666" text-anchor="middle">t</text>
<text transform="translate(11,116) rotate(-90)" font-size="10.6" fill="#666666" text-anchor="middle">I</text>
<rect x="49.3" y="15.9" width="68.8" height="155" fill="#ffffff" stroke="#1a1a1a" stroke-width="1.4"/>
<rect x="59.7" y="22.55" width="9.0" height="9.0" fill="#ff0000" stroke="#b20000" stroke-width="0.8"/>
<g transform="translate(77.9,31.55) scale(1.08,1)"><text x="0" y="0" font-size="10.1" fill="#000"><tspan font-style="italic" font-size="11">δ</tspan><tspan dx="-0.6">t</tspan><tspan dy="0.9">=</tspan><tspan dy="-0.9">0.2</tspan></text></g>
<rect x="59.7" y="41.42" width="9.0" height="9.0" fill="#0000ff" stroke="#0000b2" stroke-width="0.8"/>
<g transform="translate(77.9,50.42) scale(1.08,1)"><text x="0" y="0" font-size="10.1" fill="#000"><tspan font-style="italic" font-size="11">δ</tspan><tspan dx="-0.6">t</tspan><tspan dy="0.9">=</tspan><tspan dy="-0.9">0.3</tspan></text></g>
<rect x="59.7" y="60.29" width="9.0" height="9.0" fill="#00ff00" stroke="#00b200" stroke-width="0.8"/>
<g transform="translate(77.9,69.29) scale(1.08,1)"><text x="0" y="0" font-size="10.1" fill="#000"><tspan font-style="italic" font-size="11">δ</tspan><tspan dx="-0.6">t</tspan><tspan dy="0.9">=</tspan><tspan dy="-0.9">0.5</tspan></text></g>
<rect x="59.7" y="79.16" width="9.0" height="9.0" fill="#00ffff" stroke="#00b2b2" stroke-width="0.8"/>
<g transform="translate(77.9,88.16) scale(1.08,1)"><text x="0" y="0" font-size="10.1" fill="#000"><tspan font-style="italic" font-size="11">δ</tspan><tspan dx="-0.6">t</tspan><tspan dy="0.9">=</tspan><tspan dy="-0.9">0.7</tspan></text></g>
<rect x="59.7" y="98.03" width="9.0" height="9.0" fill="#800080" stroke="#590059" stroke-width="0.8"/>
<g transform="translate(77.9,107.03) scale(1.08,1)"><text x="0" y="0" font-size="10.1" fill="#000"><tspan font-style="italic" font-size="11">δ</tspan><tspan dx="-0.6">t</tspan><tspan dy="0.9">=</tspan><tspan dy="-0.9">0.8</tspan></text></g>
<rect x="59.7" y="116.90" width="9.0" height="9.0" fill="#996633" stroke="#6b4723" stroke-width="0.8"/>
<g transform="translate(77.9,125.90) scale(1.08,1)"><text x="0" y="0" font-size="10.1" fill="#000"><tspan font-style="italic" font-size="11">δ</tspan><tspan dx="-0.6">t</tspan><tspan dy="0.9">=</tspan><tspan dy="-0.9">1</tspan></text></g>
<rect x="59.7" y="135.77" width="9.0" height="9.0" fill="#808080" stroke="#595959" stroke-width="0.8"/>
<g transform="translate(77.9,144.77) scale(1.08,1)"><text x="0" y="0" font-size="10.1" fill="#000"><tspan font-style="italic" font-size="11">δ</tspan><tspan dx="-0.6">t</tspan><tspan dy="0.9">=</tspan><tspan dy="-0.9">1.5</tspan></text></g>
<rect x="59.7" y="154.64" width="9.0" height="9.0" fill="#ff8080" stroke="#b25959" stroke-width="0.8"/>
<g transform="translate(77.9,163.64) scale(1.08,1)"><text x="0" y="0" font-size="10.1" fill="#000"><tspan font-style="italic" font-size="11">δ</tspan><tspan dx="-0.6">t</tspan><tspan dy="0.9">=</tspan><tspan dy="-0.9">2</tspan></text></g>
</svg>
</body></html>
